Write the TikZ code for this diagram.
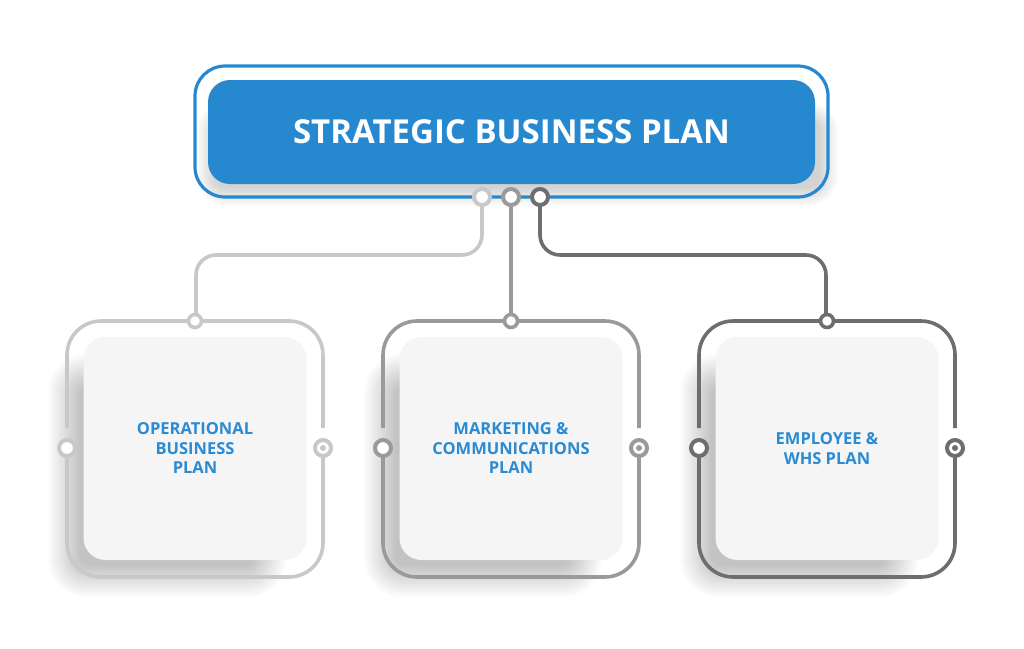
\documentclass[tikz,border=0pt]{standalone}
\usepackage{fontspec}
\setmainfont{Open Sans}
\definecolor{sbblue}{HTML}{2689CF}
\definecolor{txtblue}{HTML}{2A8AD2}
\definecolor{lgray}{HTML}{C8C8C8}
\definecolor{mgray}{HTML}{9A9A9A}
\definecolor{dgray}{HTML}{6E6E6E}
\definecolor{cardfill}{HTML}{F5F5F5}
\tikzset{
  frameline/.style={line width=3.6pt, rounded corners=34pt},
  card/.style={fill=cardfill, rounded corners=22pt, minimum width=223pt, minimum height=223pt, inner sep=0pt,
    font=\bfseries\fontsize{16.5pt}{19.5pt}\selectfont, text=txtblue, align=center},
  pin/.style={circle, line width=4pt, fill=white, minimum size=16pt, inner sep=0pt},
  conn/.style={line width=3.6pt, rounded corners=20pt},
}
\begin{document}
\begin{tikzpicture}[x=1pt,y=-1pt]
\useasboundingbox (0,0) rectangle (1024,648);
\fill[white] (0,0) rectangle (1024,648);
% soft shadows for bottom cards
\foreach \cx in {195,511,827}{
  \foreach \i in {0,...,14}{
    \fill[black, opacity=0.017, rounded corners={10pt+\i*2pt}]
      ({\cx-116-\i*2.2},{385-\i*2.2}) rectangle ({\cx+60+\i*2.2},{566+\i*2.2});
  }
}
% top box shadow
\foreach \i in {0,...,10}{
  \fill[black, opacity=0.016, rounded corners={10pt+\i*2pt}]
    ({215-\i*1.8},{120-\i*1.8}) rectangle ({820+\i*1.8},{188+\i*1.8});
}
% top box
\draw[sbblue, line width=3.2pt, rounded corners=30pt] (195,66) rectangle (828,197);
\node[fill=sbblue, rounded corners=22pt, minimum width=607pt, minimum height=104pt, inner sep=0pt,
  text=white, font=\bfseries\fontsize{33pt}{38pt}\selectfont] (title) at (511.5,132) {STRATEGIC BUSINESS PLAN};
% coordinates
\coordinate (t1) at (482,197);
\coordinate (t2) at (511,197);
\coordinate (t3) at (540,197);
\coordinate (b1) at (196,321);
\coordinate (b2) at (511,321);
\coordinate (b3) at (826,321);
% connectors
\draw[conn, lgray] (t1) -- (482,255) -- (196,255) -- (b1);
\draw[conn, mgray] (t2) -- (b2);
\draw[conn, dgray] (t3) -- (540,255) -- (826,255) -- (b3);
% bottom cards
\foreach \cx/\col/\nm/\txt in {195/lgray/c1/{OPERATIONAL\\BUSINESS\\PLAN}, 511/mgray/c2/{MARKETING \&\\COMMUNICATIONS\\PLAN}, 827/dgray/c3/{EMPLOYEE \&\\WHS PLAN}}{
  \draw[frameline, \col] ({\cx-128},428) -- ({\cx-128},321) -- ({\cx+128},321) -- ({\cx+128},428);
  \draw[frameline, \col] ({\cx-128},448) -- ({\cx-128},577) -- ({\cx+128},577) -- ({\cx+128},448);
  \node[card] (\nm) at (\cx,448.5) {\txt};
  \node[pin, draw=\col] (\nm l) at ({\cx-128},448) {};
  \node[pin, draw=\col] (\nm r) at ({\cx+128},448) {};
  \fill[\col] (\nm r) circle (3pt);
  \node[pin, draw=\col, minimum size=13pt, line width=3.6pt] (\nm t) at (\cx,321) {};
}
% top pins
\node[pin, draw=lgray] (p1) at (t1) {};
\node[pin, draw=mgray] (p2) at (t2) {};
\node[pin, draw=dgray] (p3) at (t3) {};
\end{tikzpicture}
\end{document}
